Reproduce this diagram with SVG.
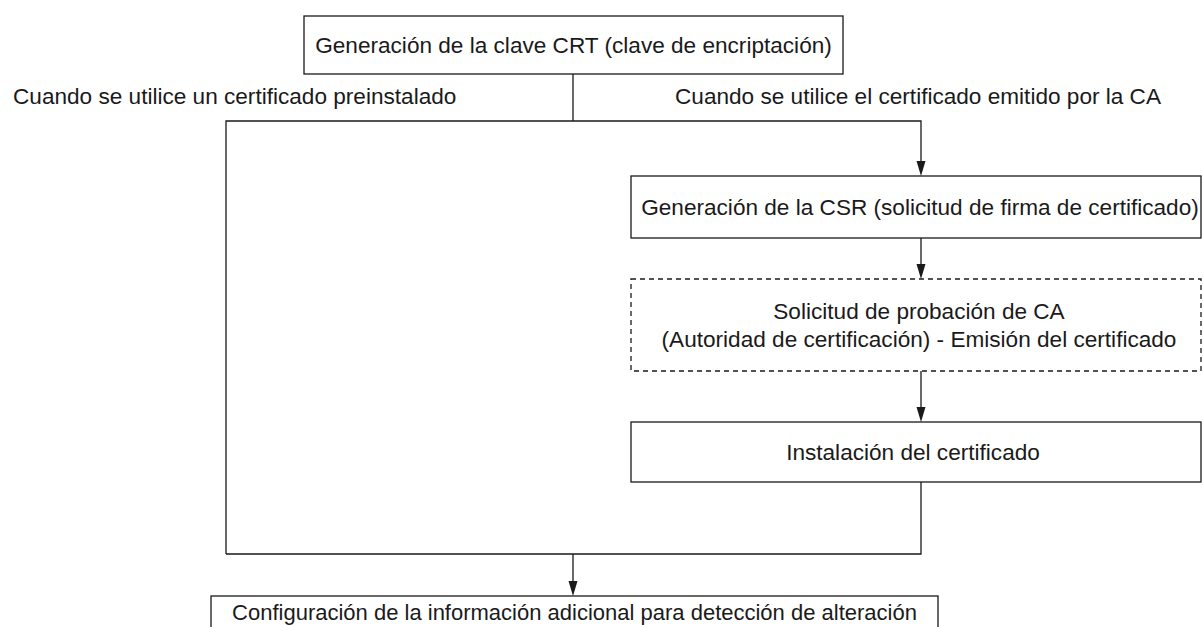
<svg xmlns="http://www.w3.org/2000/svg" width="1203" height="627" viewBox="0 0 1203 627">
<style>
text{font-family:"Liberation Sans",Arial,sans-serif;font-size:22.6px;fill:#1a1a1a;text-anchor:middle}
.st{text-anchor:start}
.box{fill:#fff;stroke:#1a1a1a;stroke-width:1.3}
.dash{stroke-dasharray:5,4}
.ln{fill:none;stroke:#1a1a1a;stroke-width:1.3}
.ah{fill:#1a1a1a}
</style>
<rect width="1203" height="627" fill="#fff"/>
<g id="connectors">
<line class="ln" x1="573" y1="74" x2="573" y2="121"/>
<polyline class="ln" points="226,554 226,121 921,121 921,163"/>
<line class="ln" x1="921" y1="238" x2="921" y2="266"/>
<line class="ln" x1="921" y1="371" x2="921" y2="409"/>
<polyline class="ln" points="921,482 921,554 226,554"/>
<line class="ln" x1="573" y1="554" x2="573" y2="583"/>
<path class="ah" d="M916.5,161 L925.5,161 L921,176 Z"/>
<path class="ah" d="M916.5,264 L925.5,264 L921,279 Z"/>
<path class="ah" d="M916.5,407 L925.5,407 L921,422 Z"/>
<path class="ah" d="M568.5,581 L577.5,581 L573,596 Z"/>
</g>
<g id="label-left"><text class="st" x="13" y="104">Cuando se utilice un certificado preinstalado</text></g>
<g id="label-right"><text class="st" x="675" y="104">Cuando se utilice el certificado emitido por la CA</text></g>
<g id="node-crt">
<rect class="box" x="304" y="16" width="539" height="58"/>
<text x="573.5" y="53">Generación de la clave CRT (clave de encriptación)</text>
</g>
<g id="node-csr">
<rect class="box" x="631" y="176" width="570" height="62"/>
<text x="920" y="215">Generación de la CSR (solicitud de firma de certificado)</text>
</g>
<g id="node-ca">
<rect class="box dash" x="631" y="279" width="570" height="92"/>
<text x="919" y="319">Solicitud de probación de CA</text>
<text x="919" y="347">(Autoridad de certificación) - Emisión del certificado</text>
</g>
<g id="node-install">
<rect class="box" x="631" y="422" width="570" height="60"/>
<text x="913" y="460">Instalación del certificado</text>
</g>
<g id="node-config">
<rect class="box" x="211" y="596" width="727" height="45"/>
<text x="574.5" y="620" style="font-size:22px">Configuración de la información adicional para detección de alteración</text>
</g>
</svg>
